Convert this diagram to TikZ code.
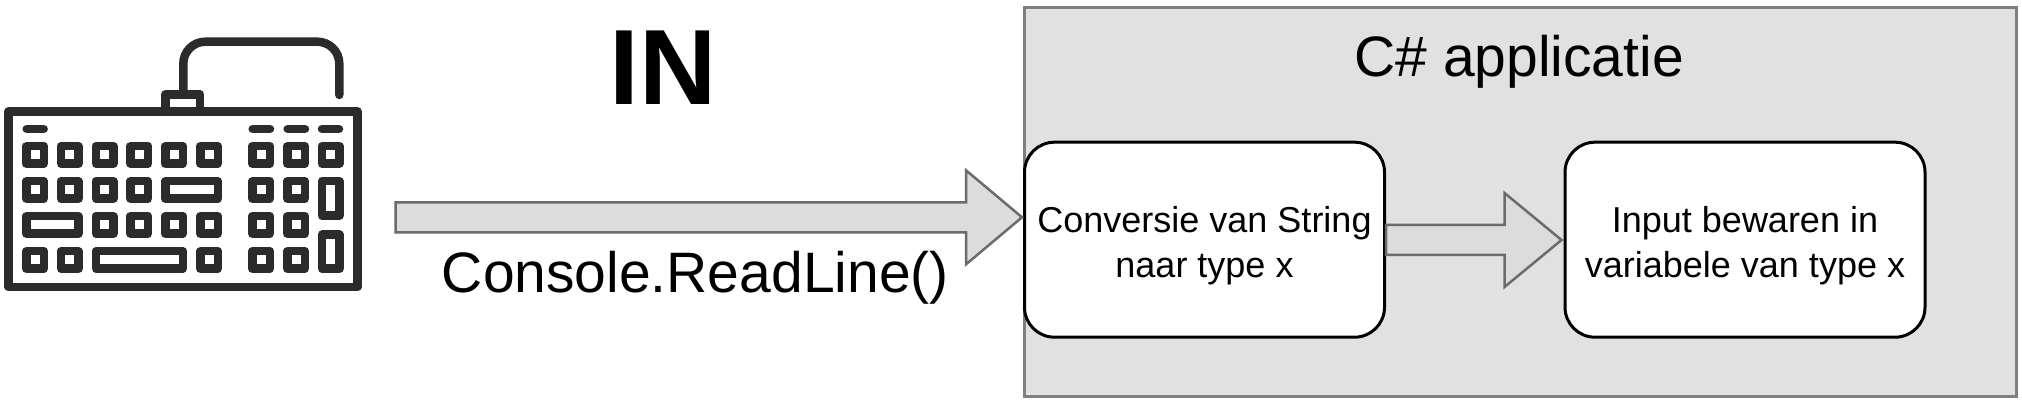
\documentclass[tikz,border=0pt]{standalone}
\usepackage{fontspec}
\setmainfont{Liberation Sans}
\usetikzlibrary{calc}
\tikzset{
  kb/.style={draw=kbcol,line width=4.25pt,line join=round},
  key/.style={kb,fill=white},
  kbline/.style={draw=kbcol,line width=4.25pt,line cap=round},
  container/.style={draw=contline,fill=contfill,line width=1.5pt,minimum width=496pt,minimum height=194.5pt,inner sep=0pt},
  procbox/.style={draw=black,fill=white,line width=1.5pt,rounded corners=15pt,minimum width=180pt,minimum height=97.5pt,inner sep=0pt,align=center,font=\fontsize{18}{22.5}\selectfont},
  blockarrow/.style={draw=arrline,fill=arrfill,line width=1.25pt,line join=miter},
  lab/.style={inner sep=0pt,anchor=base west,font=\fontsize{28.5}{34}\selectfont}
}
\definecolor{kbcol}{HTML}{2B2B2B}
\definecolor{contline}{HTML}{7F7F7F}
\definecolor{contfill}{HTML}{E1E1E1}
\definecolor{arrline}{HTML}{6B6B6B}
\definecolor{arrfill}{HTML}{DCDCDC}
\newcommand{\bigarrow}[3]{% from, to, head length
  \draw[blockarrow] ($(#1)+(0,-15)$) -- ($(#2)+(-#3,-15)$) -- ($(#2)+(-#3,-47)$) -- (#2)
    -- ($(#2)+(-#3,47)$) -- ($(#2)+(-#3,15)$) -- ($(#1)+(0,15)$) -- cycle;}
\newcommand{\lowered}[1]{\raisebox{-2.6pt}[14pt][4pt]{#1}}
\begin{document}
\begin{tikzpicture}[x=0.5pt,y=-0.5pt]
\useasboundingbox (0,0) rectangle (2022,405);
\fill[white] (0,0) rectangle (2022,405);

% container and boxes
\node[container] (app) at (1520,202) {};
\node[procbox] (conv) at (1204.5,239.7) {\lowered{Conversie van String}\\\lowered{naar type x}};
\node[procbox] (store) at (1745,239.7) {\lowered{Input bewaren in}\\\lowered{variabele van type x}};
\node[lab] (apptitle) at (1354,77) {C\# applicatie};

% arrows
\coordinate (inStart) at (395.6,217.3);
\coordinate (inTip) at (1022,217.3);
\bigarrow{inStart}{inTip}{56}
\coordinate (midStart) at (conv.east |- 0,240);
\coordinate (midTip) at ($(store.west |- 0,240)+(-2,0)$);
\bigarrow{midStart}{midTip}{57}

% texts
\node[inner sep=0pt,anchor=base] (inlabel) at (663,105) {\fontsize{53.5}{60}\selectfont\bfseries IN};
\node[lab] (readline) at (441.5,293) {Console.ReadLine()};

% keyboard
\draw[kbline,rounded corners=11pt] (183.3,94) -- (183.3,41.7) -- (339.3,41.7) -- (339.3,95);
\draw[kb,fill=white] (165.5,111) -- (165.5,94.3) -- (200,94.3) -- (200,111);
\draw[kb,fill=white] (8.5,111.5) rectangle (357.5,287);
\foreach \a/\b in {22.7/47.7,248.7/274,283.7/309,318/343}
  \draw[kbline] (\a+4,129) -- (\b-4,129);
\foreach \x/\y in {35/155,69.7/155,104.7/155,139.3/155,174/155,209/155,261/155,296/155,330.7/155,
                   35/190,69.7/190,104.7/190,139.3/190,261/190,296/190,
                   104.7/225,139.3/225,174/225,209/225,261/225,296/225,
                   35/260,69.7/260,209/260,261/260,296/260}
  \draw[key] (\x-8.75,\y-8.75) rectangle (\x+8.75,\y+8.75);
\foreach \xa/\ya/\xb/\yb in {174/190/209/190,35/225/69.7/225,104.7/260/174/260,330.7/190/330.7/207,330.7/243.5/330.7/260}
  \draw[key] (\xa-8.75,\ya-8.75) rectangle (\xb+8.75,\yb+8.75);
\end{tikzpicture}
\end{document}
